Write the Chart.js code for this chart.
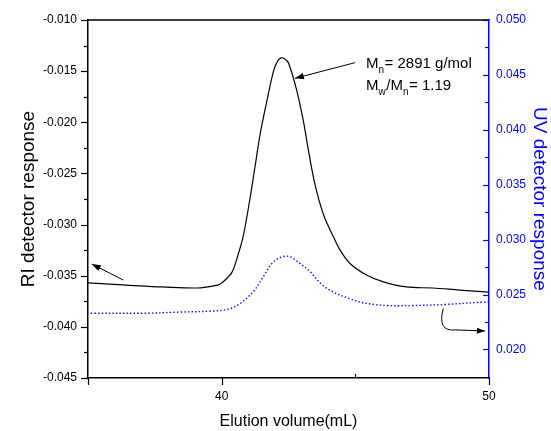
<!DOCTYPE html>
<html><head><meta charset="utf-8">
<script src="https://cdn.jsdelivr.net/npm/chart.js@4/dist/chart.umd.min.js"></script>
<style>html,body{margin:0;padding:0;background:#fff}#wrap{width:551px;height:431px}</style>
</head><body><div id="wrap"><canvas id="c" width="551" height="431"></canvas></div>
<script>
// ---- data ----
const riX = [35.0, 36.3, 37.8, 39.1, 39.7, 39.95, 40.2, 40.4, 40.55, 40.8, 41.05, 41.25, 41.45, 41.7, 41.95, 42.1, 42.22, 42.35, 42.5, 42.8, 43.05, 43.25, 43.45, 43.65, 43.85, 44.18, 44.43, 44.8, 45.4, 46.05, 46.9, 47.9, 48.9, 50.0];
const riY = [-0.0357, -0.0359, -0.0361, -0.0362, -0.0360, -0.0358, -0.03525, -0.0346, -0.0335, -0.0312, -0.0276, -0.0243, -0.0210, -0.0178, -0.0149, -0.0140, -0.0137, -0.0138, -0.0142, -0.0168, -0.0198, -0.0228, -0.0256, -0.0277, -0.0293, -0.0312, -0.0325, -0.0338, -0.0349, -0.0356, -0.0361, -0.0362, -0.0364, -0.0366];
const uvX = [35.1, 37.2, 38.4, 39.7, 40.3, 40.7, 41.2, 41.55, 41.95, 42.45, 42.95, 43.3, 43.75, 44.2, 44.7, 45.2, 45.7, 46.2, 47.2, 48.4, 49.7, 50.0];
const uvY = [0.0233, 0.0233, 0.0234, 0.0235, 0.0237, 0.0242, 0.0253, 0.0266, 0.0280, 0.0285, 0.0278, 0.0271, 0.0259, 0.0252, 0.0247, 0.0243, 0.0241, 0.0240, 0.0240, 0.0241, 0.0243, 0.0243];
const riTicks = [-0.045, -0.040, -0.035, -0.030, -0.025, -0.020, -0.015, -0.010];
const uvTicks = [0.020, 0.025, 0.030, 0.035, 0.040, 0.045, 0.050];
const xTicks = [40, 50];
const xMinorTicks = [45];
// annotation anchors in data units (x, RI value)
const noteAnchor1 = [45.40, -0.01472];
const noteAnchor2 = [45.40, -0.01684];
const noteLine1 = [['M', 0], ['n', 1], ['= 2891 g/mol', 0]];
const noteLine2 = [['M', 0], ['w', 1], ['/M', 0], ['n', 1], ['= 1.19', 0]];
const arrowPeak = [[44.99, -0.01417], [42.74, -0.01570]];
const arrowLeft = [[36.32, -0.03542], [35.14, -0.03386]];
const arrowRight = [[48.29, -0.0382], [48.05, -0.0405], [48.75, -0.0403], [49.85, -0.0404]];

const FONT = '"Liberation Sans", Arial, Helvetica, sans-serif';
const BLUE = '#0000ff';

function pts(xs, ys){ return xs.map((v,i)=>({x:v, y:ys[i]})); }

function head(ctx, x0, y0, x1, y1, len, half){
  const a = Math.atan2(y1-y0, x1-x0);
  ctx.beginPath();
  ctx.moveTo(x1, y1);
  ctx.lineTo(x1 - len*Math.cos(a) + half*Math.sin(a), y1 - len*Math.sin(a) - half*Math.cos(a));
  ctx.lineTo(x1 - len*Math.cos(a) - half*Math.sin(a), y1 - len*Math.sin(a) + half*Math.cos(a));
  ctx.closePath(); ctx.fill();
}

const decor = {
  id: 'decor',
  afterDraw(chart){
    const {ctx, chartArea: a, scales} = chart;
    const sx = scales.x, sy = scales.y, s2 = scales.y2;
    ctx.save();
    // top frame line
    ctx.strokeStyle = '#000'; ctx.lineWidth = 1.5;
    ctx.beginPath(); ctx.moveTo(a.left, a.top); ctx.lineTo(a.right+0.5, a.top); ctx.stroke();
    // left ticks
    ctx.lineWidth = 1.2;
    riTicks.forEach((v,i)=>{
      const p = Math.round(sy.getPixelForValue(v))+0.5;
      ctx.beginPath(); ctx.moveTo(a.left-7, p); ctx.lineTo(a.left, p); ctx.stroke();
      if (i < riTicks.length-1){
        const m = Math.round(sy.getPixelForValue((v+riTicks[i+1])/2))+0.5;
        ctx.beginPath(); ctx.moveTo(a.left-4, m); ctx.lineTo(a.left, m); ctx.stroke();
      }
    });
    // bottom ticks
    [sx.min].concat(xTicks).forEach(v=>{
      const p = Math.round(sx.getPixelForValue(v))+0.5;
      ctx.beginPath(); ctx.moveTo(p, a.bottom); ctx.lineTo(p, a.bottom+7); ctx.stroke();
    });
    xMinorTicks.forEach(v=>{
      const p = Math.round(sx.getPixelForValue(v))+0.5;
      ctx.beginPath(); ctx.moveTo(p, a.bottom); ctx.lineTo(p, a.bottom-4); ctx.stroke();
    });
    // right ticks (inward, blue)
    ctx.strokeStyle = BLUE;
    uvTicks.forEach((v,i)=>{
      const p = Math.round(s2.getPixelForValue(v))+0.5;
      ctx.beginPath(); ctx.moveTo(a.right-6, p); ctx.lineTo(a.right, p); ctx.stroke();
      const mv = i < uvTicks.length-1 ? (v+uvTicks[i+1])/2 : null;
      if (mv !== null){
        const m = Math.round(s2.getPixelForValue(mv))+0.5;
        ctx.beginPath(); ctx.moveTo(a.right-4, m); ctx.lineTo(a.right, m); ctx.stroke();
      }
    });
    // arrows
    ctx.strokeStyle = '#000'; ctx.fillStyle = '#000'; ctx.lineWidth = 1;
    const P = (d)=>[sx.getPixelForValue(d[0]), sy.getPixelForValue(d[1])];
    [arrowPeak, arrowLeft].forEach(ar=>{
      const s = P(ar[0]), e = P(ar[1]);
      ctx.beginPath(); ctx.moveTo(s[0], s[1]); ctx.lineTo(e[0], e[1]); ctx.stroke();
      head(ctx, s[0], s[1], e[0], e[1], 9, 3.2);
    });
    {
      const p0 = P(arrowRight[0]), p1 = P(arrowRight[1]), p2 = P(arrowRight[2]), p3 = P(arrowRight[3]);
      ctx.beginPath(); ctx.moveTo(p0[0], p0[1]);
      ctx.quadraticCurveTo(p1[0], p1[1], p2[0], p2[1]);
      ctx.lineTo(p3[0], p3[1]); ctx.stroke();
      head(ctx, p2[0], p2[1], p3[0], p3[1], 8, 3);
    }
    // annotation text
    ctx.fillStyle = '#000'; ctx.textBaseline = 'alphabetic'; ctx.textAlign = 'left';
    [[noteAnchor1, noteLine1], [noteAnchor2, noteLine2]].forEach(([anc, parts])=>{
      let [px, py] = P(anc);
      parts.forEach(([t, sub])=>{
        ctx.font = (sub ? '10px ' : '15px ') + FONT;
        ctx.fillText(t, px, py + (sub ? 5 : 0));
        px += ctx.measureText(t).width + (sub ? 0.5 : 0);
      });
    });
    ctx.restore();
  }
};

function labelFmt(v){ return v.toFixed(3); }

new Chart(document.getElementById('c'), {
  type: 'line',
  data: {
    datasets: [
      { label: 'RI', data: pts(riX, riY), yAxisID: 'y', borderColor: '#000', borderWidth: 1.2,
        pointRadius: 0, tension: 0.35, fill: false },
      { label: 'UV', data: pts(uvX, uvY), yAxisID: 'y2', borderColor: BLUE, borderWidth: 1.4,
        borderDash: [1.4, 2.2], pointRadius: 0, tension: 0.35, fill: false }
    ]
  },
  options: {
    responsive: false, animation: false,
    layout: { padding: { top: 20, left: 0, right: 0, bottom: 0 } },
    plugins: { legend: { display: false }, tooltip: { enabled: false } },
    scales: {
      x: {
        type: 'linear', min: 35, max: 50,
        afterBuildTicks: s => { s.ticks = xTicks.map(v=>({value:v})); },
        afterFit: s => { s.height = 53; },
        ticks: { autoSkip: false, maxRotation: 0, padding: 4, color: '#000', font: { size: 12, family: FONT },
                 callback: v => String(v) },
        grid: { display: true, drawOnChartArea: false, tickLength: 7, tickColor: 'rgba(0,0,0,0)' },
        border: { display: true, color: '#000', width: 1.5 },
        title: { display: true, text: 'Elution volume(mL)', color: '#000', font: { size: 16, family: FONT },
                 padding: { top: 0, bottom: 0 } }
      },
      y: {
        type: 'linear', position: 'left', min: -0.045, max: -0.010,
        afterBuildTicks: s => { s.ticks = riTicks.map(v=>({value:v})); },
        afterFit: s => { s.width = 88; },
        ticks: { autoSkip: false, padding: 4, color: '#000', font: { size: 12, family: FONT }, callback: labelFmt },
        grid: { display: true, drawOnChartArea: false, tickLength: 7, tickColor: 'rgba(0,0,0,0)' },
        border: { display: true, color: '#000', width: 1.5 },
        title: { display: true, text: 'RI detector response', color: '#000', font: { size: 19, family: FONT },
                 padding: { top: 17, bottom: 0 } }
      },
      y2: {
        type: 'linear', position: 'right', min: 0.0174, max: 0.050,
        afterBuildTicks: s => { s.ticks = uvTicks.map(v=>({value:v})); },
        afterFit: s => { s.width = 62; },
        ticks: { autoSkip: false, padding: 4, color: BLUE, font: { size: 12, family: FONT }, callback: labelFmt },
        grid: { display: true, drawOnChartArea: false, tickLength: 3, tickColor: 'rgba(0,0,0,0)' },
        border: { display: true, color: BLUE, width: 1.5 },
        title: { display: true, text: 'UV detector response', color: BLUE, font: { size: 19, family: FONT },
                 padding: { top: 0, bottom: 0 } }
      }
    }
  },
  plugins: [decor]
});
</script>
</body></html>
